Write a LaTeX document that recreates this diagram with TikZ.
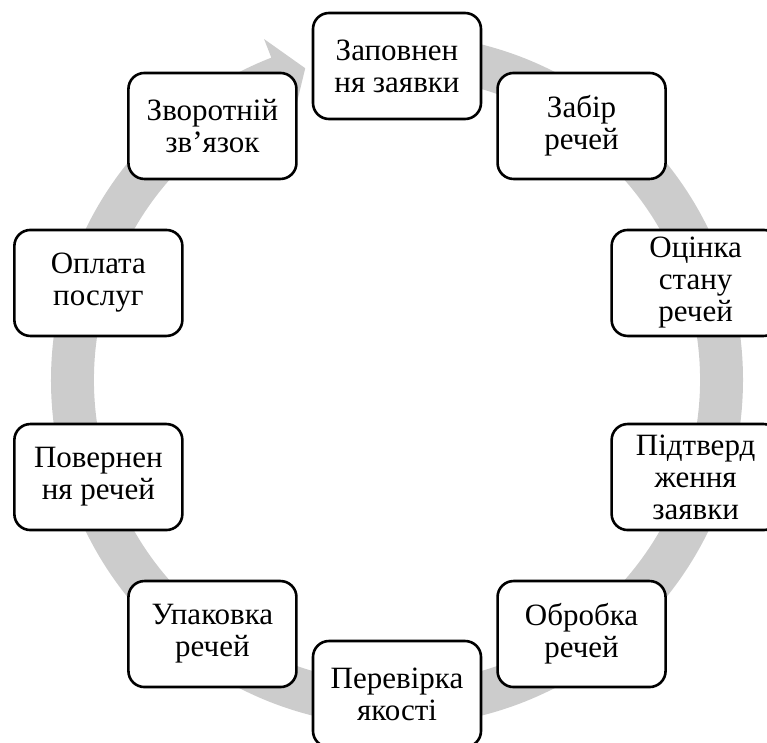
\documentclass[tikz,border=0pt]{standalone}
\usepackage{fontspec}
\setmainfont{Liberation Serif}
\newfontfamily\boxfont{Liberation Serif}
\definecolor{bandgrey}{gray}{0.8}
\tikzset{
  stepbox/.style={draw=black, line width=2.6pt, fill=white, rounded corners=16pt,
    minimum width=168pt, minimum height=106pt, inner sep=0pt, align=center,
    font=\boxfont\fontsize{31pt}{32pt}\selectfont}
}
\begin{document}
\begin{tikzpicture}[x=1pt,y=1pt]
\useasboundingbox (-397,-362) rectangle (370,380);
% circular band with arrowhead
\fill[bandgrey] (88:346pt) arc[start angle=88, end angle=-248.7, radius=346pt]
  -- (111.3:366pt) -- (106.4:325pt) -- (111.3:284pt) -- (111.3:303pt)
  arc[start angle=-248.7, end angle=88, radius=303pt] -- cycle;
% nodes
\node[stepbox] (n0) at (90:314pt) {Заповнен\\ня заявки};
\node[stepbox] (n1) at (54:314pt) {Забір\\речей};
\node[stepbox] (n2) at (18:314pt) {Оцінка\\стану\\речей};
\node[stepbox] (n3) at (-18:314pt) {Підтверд\\ження\\заявки};
\node[stepbox] (n4) at (-54:314pt) {Обробка\\речей};
\node[stepbox] (n5) at (-90:314pt) {Перевірка\\якості};
\node[stepbox] (n6) at (-126:314pt) {Упаковка\\речей};
\node[stepbox] (n7) at (-162:314pt) {Повернен\\ня речей};
\node[stepbox] (n8) at (162:314pt) {Оплата\\послуг};
\node[stepbox] (n9) at (126:314pt) {Зворотній\\зв’язок};
\end{tikzpicture}
\end{document}
